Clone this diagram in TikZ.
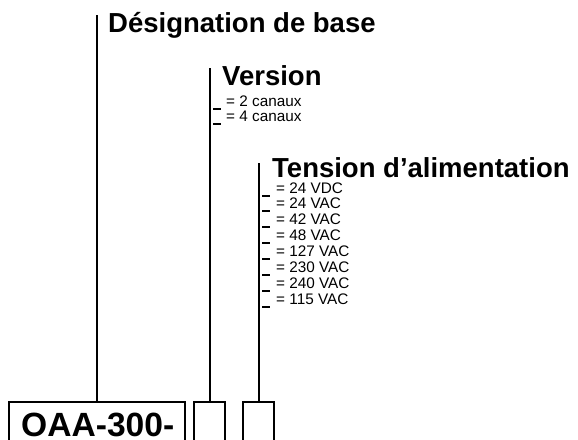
\documentclass[tikz,border=0pt]{standalone}
\usepackage{fontspec}
\setmainfont{Liberation Sans}
\begin{document}
\begin{tikzpicture}[x=1pt,y=-1pt,
  lead/.style={line width=2pt},
  boxx/.style={draw,line width=2pt},
  title/.style={anchor=base west,inner sep=0pt,font=\bfseries\fontsize{27.5}{30}\selectfont},
  item/.style={anchor=base west,inner sep=0pt,font=\fontsize{15.3}{16}\selectfont},
  blank/.style={line width=2pt}]
\useasboundingbox (0,0) rectangle (578,439);
\begin{scope}
\clip (0,0) rectangle (578,439);
\draw[boxx] (9,402) rectangle (185,460);
\node[title,font=\bfseries\fontsize{33.6}{36}\selectfont] (code) at (21,436) {OAA-300-};
\end{scope}
\coordinate (b1) at (97,402);
\draw[boxx] (194,402) rectangle (225,460);
\coordinate (b2) at (210,402);
\draw[boxx] (243,402) rectangle (274,460);
\coordinate (b3) at (259,402);
% lead lines
\coordinate (t1) at (97,15);
\coordinate (t2) at (210,68);
\coordinate (t3) at (259,163);
\draw[lead] (t1) -- (b1);
\draw[lead] (t2) -- (b2);
\draw[lead] (t3) -- (b3);
% titles
\node[title] (base) at (108,32) {Désignation de base};
\node[title] (ver) at (222,85) {Version};
\node[title] (ten) at (272,177) {Tension d’alimentation};
% version items
\foreach \t [count=\i from 0] in {2 canaux,4 canaux}{
  \node[item] (v\i) at (226,106+15*\i) {= \t};
  \draw[blank] (213,108.5+15*\i) -- (221,108.5+15*\i);
}
\foreach \t [count=\i from 0] in {24 VDC,24 VAC,42 VAC,48 VAC,127 VAC,230 VAC,240 VAC,115 VAC}{
  \node[item] (e\i) at (276,193+15.9*\i) {= \t};
  \draw[blank] (262,195.5+15.9*\i) -- (270,195.5+15.9*\i);
}
\end{tikzpicture}
\end{document}
